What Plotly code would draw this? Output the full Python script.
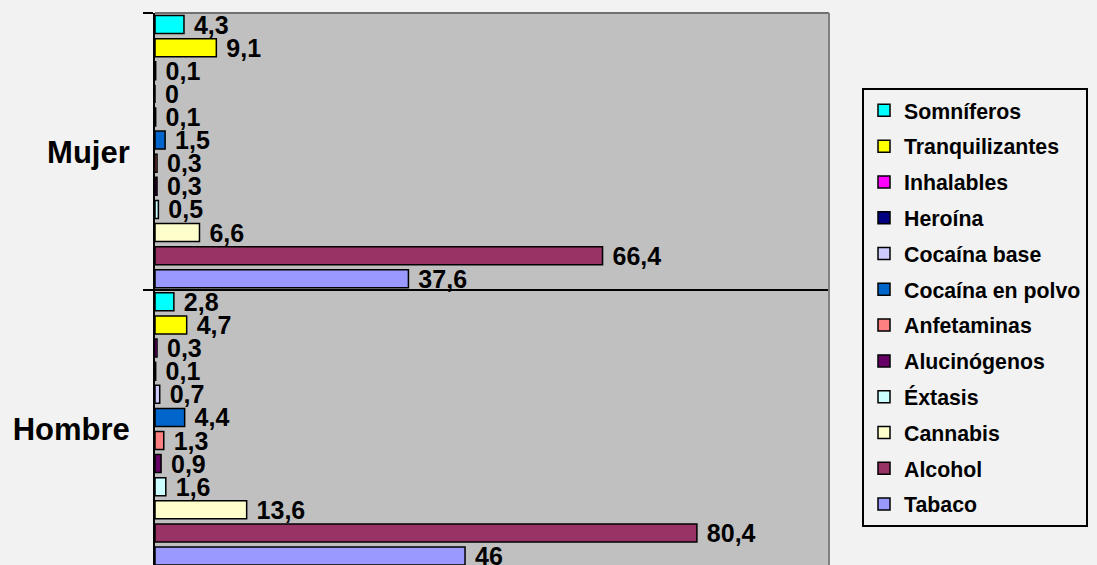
import plotly.graph_objects as go

categories = ["Hombre", "Mujer"]
series = ["Tabaco", "Alcohol", "Cannabis", "Éxtasis", "Alucinógenos", "Anfetaminas",
          "Cocaína en polvo", "Cocaína base", "Heroína", "Inhalables", "Tranquilizantes", "Somníferos"]
hombre = [46, 80.4, 13.6, 1.6, 0.9, 1.3, 4.4, 0.7, 0.1, 0.3, 4.7, 2.8]
mujer = [37.6, 66.4, 6.6, 0.5, 0.3, 0.3, 1.5, 0.1, 0, 0.1, 9.1, 4.3]
colors = ["#9999FF", "#993366", "#FFFFCC", "#CCFFFF", "#660066", "#FF8080",
          "#0066CC", "#CCCCFF", "#000080", "#FF00FF", "#FFFF00", "#00FFFF"]

FONT = "Liberation Sans, Arial, sans-serif"


def fmt(v):
    return "\u00a0" + f"{v:g}".replace(".", ",")


fig = go.Figure()
n = len(series)
for i, name in enumerate(series):
    vals = [hombre[i], mujer[i]]
    fig.add_trace(go.Bar(
        y=categories, x=vals, name=name, orientation="h",
        marker=dict(color=colors[i], line=dict(color="black", width=1.5)),
        text=[fmt(v) for v in vals], textposition="outside",
        textfont=dict(family=FONT, size=25, color="black", weight="bold"),
        constraintext="none", cliponaxis=False,
        legendgroup=name, legendrank=n - i,
    ))

W, H = 1097, 565
L, R, T, B = 155, W - 829, 13, 0
plot_h = H - T - B
cat_px = 277.3

fig.update_layout(
    width=W, height=H,
    margin=dict(l=L, r=R, t=T, b=B),
    paper_bgcolor="#F2F2F2", plot_bgcolor="#C0C0C0",
    barmode="group", bargap=0, bargroupgap=0.22,
    separators=",.",
    showlegend=True,
    legend=dict(
        x=(862 - L) / (W - L - R), xanchor="left",
        y=1 - (88 - T) / plot_h, yanchor="top",
        bgcolor="#F2F2F2", bordercolor="black", borderwidth=2,
        font=dict(family=FONT, size=21.3, color="black", weight="bold"),
        traceorder="grouped", tracegroupgap=5.1,
    ),
    xaxis=dict(range=[0, 100], showticklabels=False, showgrid=False, zeroline=False,
               showline=False, ticks=""),
    yaxis=dict(
        type="category", range=[1.5 - plot_h / cat_px, 1.5],
        tickson="boundaries", ticks="outside", ticklen=10, tickcolor="black", tickwidth=1.5,
        showgrid=True, gridcolor="black", gridwidth=1.5,
        showline=True, linecolor="black", linewidth=2, mirror=False,
        tickfont=dict(family=FONT, size=31, color="black", weight="bold"),
        ticklabelstandoff=17,
    ),
    shapes=[
        dict(type="line", xref="paper", yref="paper", x0=0, x1=1, y0=1, y1=1,
             line=dict(color="#707070", width=2)),
        dict(type="line", xref="paper", yref="paper", x0=1, x1=1, y0=0, y1=1,
             line=dict(color="#808080", width=2)),
    ],
)

fig.write_html("out.html")
